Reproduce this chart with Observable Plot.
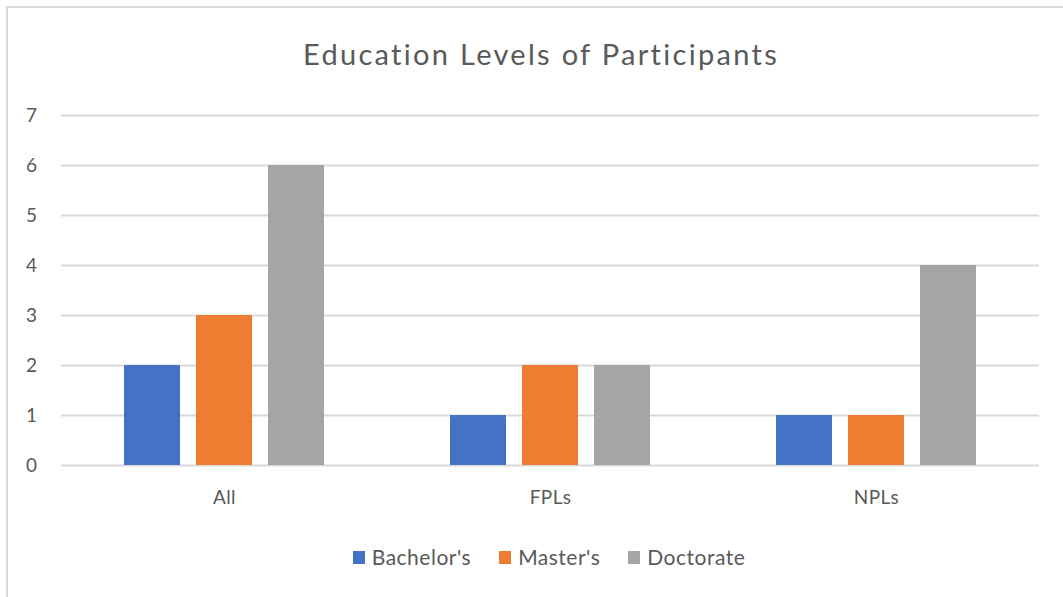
<!DOCTYPE html>
<html>
<head>
<meta charset="utf-8">
<script src="https://cdn.jsdelivr.net/npm/d3@7"></script>
<script src="https://cdn.jsdelivr.net/npm/@observablehq/plot@0.6"></script>
<style>
  html, body { margin: 0; padding: 0; background: #fff; overflow: hidden; }
  body { width: 1063px; height: 597px; position: relative; font-family: Lato, "Open Sans", sans-serif; color: #595959; }
  #frame { position: absolute; left: 6px; top: 6px; width: 1100px; height: 700px; border-top: 2.5px solid #d9d9d9; border-left: 2.5px solid #d9d9d9; }
  #title { position: absolute; left: 0; top: 34px; width: 1082px; text-align: center; font-size: 29px; letter-spacing: 2.3px; line-height: 40px; }
  #chart { position: absolute; left: 0; top: 95px; }
  #chart text { letter-spacing: 0.4px; }
  #legend { position: absolute; left: 4px; top: 543px; width: 1090px; display: flex; justify-content: center; gap: 28px; font-size: 21px; letter-spacing: 0.5px; line-height: 28px; }
  .item { display: flex; align-items: center; gap: 7px; }
  .sw { width: 12px; height: 13px; display: inline-block; }
</style>
</head>
<body>
<div id="frame"></div>
<div id="title">Education Levels of Participants</div>
<div id="chart"></div>
<div id="legend"></div>
<script>
const categories = ["All", "FPLs", "NPLs"];
const series = ["Bachelor's", "Master's", "Doctorate"];
const bachelors = [2, 1, 1];
const masters = [3, 2, 1];
const doctorate = [6, 2, 4];
const colors = ["#4472C4", "#ED7D31", "#A5A5A5"];
const yTicks = [0, 1, 2, 3, 4, 5, 6, 7];

const seriesValues = [bachelors, masters, doctorate];
const data = categories.flatMap((c, i) =>
  series.map((s, j) => ({category: c, level: s, value: seriesValues[j][i]}))
);

const plot = Plot.plot({
  width: 1063,
  height: 430,
  marginLeft: 60,
  marginRight: 24,
  marginTop: 20,
  marginBottom: 60,
  style: {color: "#595959", fontFamily: "Lato, 'Open Sans', sans-serif", background: "transparent"},
  fx: {domain: categories, padding: 0},
  x: {domain: series, paddingInner: 0.22, paddingOuter: 0.843, axis: null},
  y: {domain: [0, 7]},
  color: {domain: series, range: colors},
  marks: [
    Plot.ruleY(yTicks, {stroke: "#d9d9d9", strokeWidth: 2}),
    Plot.barY(data, {fx: "category", x: "level", y: "value", fill: "level"}),
    Plot.axisY(yTicks, {tickSize: 0, tickPadding: 24, fontSize: 19, label: null, tickFormat: d3.format("d")}),
    Plot.axisFx({anchor: "bottom", tickSize: 0, tickPadding: 25, fontSize: 19, label: null})
  ]
});
document.getElementById("chart").appendChild(plot);

const legend = document.getElementById("legend");
series.forEach((s, i) => {
  const item = document.createElement("div");
  item.className = "item";
  const sw = document.createElement("span");
  sw.className = "sw";
  sw.style.background = colors[i];
  const t = document.createElement("span");
  t.textContent = s;
  item.appendChild(sw);
  item.appendChild(t);
  legend.appendChild(item);
});
</script>
</body>
</html>
